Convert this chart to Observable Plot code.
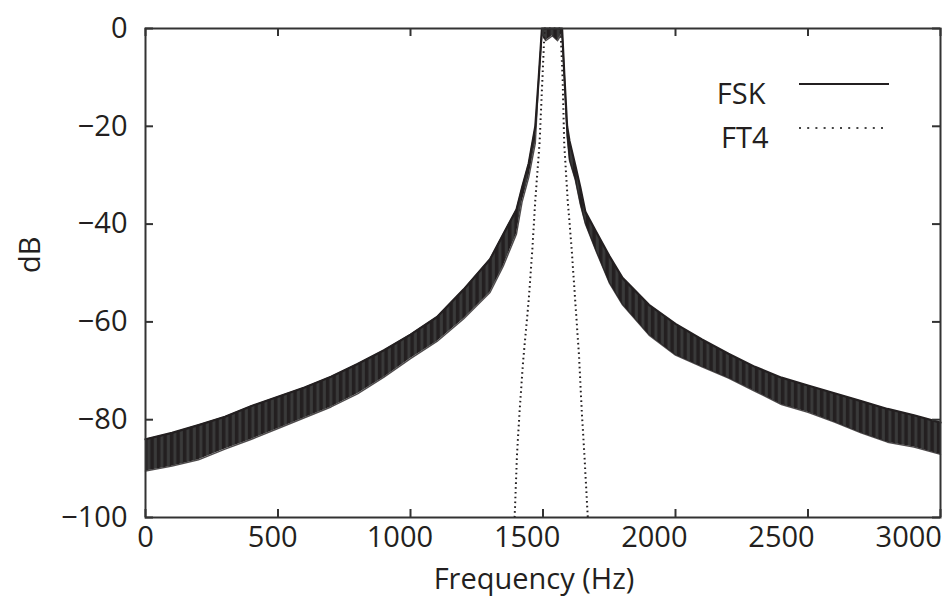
<!DOCTYPE html>
<html>
<head>
<meta charset="utf-8">
<script src="https://cdn.jsdelivr.net/npm/d3@7"></script>
<script src="https://cdn.jsdelivr.net/npm/@observablehq/plot@0.6"></script>
<style>
  html, body { margin: 0; padding: 0; background: #fff; }
  #chart { width: 944px; height: 612px; }
  svg { font-family: "Open Sans", "Noto Sans", sans-serif; }
</style>
</head>
<body>
<div id="chart"></div>
<script>
// ---- data ----
// FSK spectrum: upper and lower envelope of the dense ripple (dB)
const fskFreq  = [0, 100, 200, 300, 400, 500, 600, 700, 800, 900, 1000, 1100, 1200, 1300, 1350, 1400, 1421, 1446, 1471, 1484, 1496, 1510, 1535, 1555, 1572, 1581, 1591, 1600, 1622, 1641, 1660, 1700, 1750, 1800, 1900, 2000, 2100, 2200, 2300, 2400, 2500, 2600, 2700, 2800, 2900, 3000];
const fskUpper = [-84, -82.7, -81.1, -79.4, -77.2, -75.3, -73.4, -71.2, -68.6, -65.8, -62.6, -59, -53.4, -47.2, -42.1, -37, -32.5, -27.6, -20, -10, 0, 0, 0, 0, 0, -10, -20, -23, -28, -32.5, -37.5, -41.5, -46.5, -51, -56.5, -60.4, -63.6, -66.5, -69.2, -71.4, -73, -74.6, -76.2, -77.8, -79.1, -80.6];
const fskLower = [-90.5, -89.5, -88.2, -86, -84, -81.8, -79.6, -77.4, -74.7, -71.3, -67.5, -64, -59.4, -54, -48.6, -42, -35.5, -30.5, -23.5, -10, -1, -2.5, -1.5, -2.5, -1, -10, -22, -27, -31, -36, -40, -45.5, -52, -56.5, -62.7, -66.8, -69.2, -71.5, -74.2, -76.9, -78.5, -80.5, -82.7, -84.6, -85.6, -87.1];
// FT4 spectrum (dB)
const ft4Freq  = [1393, 1402, 1412, 1425, 1446, 1460, 1471, 1487, 1498, 1506, 1566, 1574, 1580, 1593, 1608, 1622, 1636, 1646, 1656, 1669];
const ft4Level = [-100, -87, -78, -68, -55.6, -45, -35, -23.5, -10, 0, 0, -10, -23.5, -35, -45, -56, -67, -78, -87, -100];
// axes
const xTicks = [0, 500, 1000, 1500, 2000, 2500, 3000];
const yTicks = [0, -20, -40, -60, -80, -100];
const seriesNames = ["FSK", "FT4"];
const xLabel = "Frequency (Hz)";
const yLabel = "dB";

// ---- build tables ----
const fsk = fskFreq.map((f, i) => ({f, hi: fskUpper[i], lo: fskLower[i]}));
const ft4 = ft4Freq.map((f, i) => ({f, y: ft4Level[i]}));
const ink = "#231f20";
const fmt = v => (v < 0 ? "\u2212" + Math.abs(v) : String(v));

const W = 944, H = 612;
const mT = 28, mB = 95, mL = 145, mR = 4;
const frameW = W - mL - mR, frameH = H - mT - mB;
const tk = 8;
const fs = 29;

const plot = Plot.plot({
  width: W,
  height: H,
  marginTop: mT,
  marginBottom: mB,
  marginLeft: mL,
  marginRight: mR,
  x: {domain: [0, 3000], axis: null},
  y: {domain: [-100, 0], axis: null},
  style: {fontFamily: "'Open Sans', 'Noto Sans', sans-serif", color: ink, background: "#fff"},
  marks: [
    // FSK ripple band
    Plot.areaY(fsk, {x: "f", y1: "lo", y2: "hi", fill: "url(#ripple)"}),
    Plot.line(fsk, {x: "f", y: "hi", stroke: ink, strokeWidth: 2.2}),
    Plot.line(fsk, {x: "f", y: "lo", stroke: ink, strokeWidth: 1.4, strokeOpacity: 0.8}),
    // FT4 dotted
    Plot.line(ft4, {x: "f", y: "y", stroke: ink, strokeWidth: 2, strokeDasharray: "1.6,3.2", strokeLinecap: "butt"}),
    // frame
    Plot.frame({stroke: "#333", strokeWidth: 2}),
    // inward tick marks, mirrored on all sides
    Plot.tickX(xTicks, {x: d => d, insetTop: frameH - tk, stroke: "#333", strokeWidth: 2}),
    Plot.tickX(xTicks, {x: d => d, insetBottom: frameH - tk, stroke: "#333", strokeWidth: 2}),
    Plot.tickY(yTicks, {y: d => d, insetRight: frameW - tk, stroke: "#333", strokeWidth: 2}),
    Plot.tickY(yTicks, {y: d => d, insetLeft: frameW - tk, stroke: "#333", strokeWidth: 2}),
    // tick labels
    Plot.text(xTicks, {x: d => d * 0.96, frameAnchor: "bottom", dy: 29, text: d => fmt(d), fontSize: fs, fill: ink}),
    Plot.text(yTicks, {y: d => d, frameAnchor: "left", dx: -18, textAnchor: "end", text: d => fmt(d), fontSize: fs, fill: ink}),
    // axis titles
    Plot.text([xLabel], {frameAnchor: "bottom", dx: -9, dy: 71, text: d => d, fontSize: fs, fill: ink}),
    Plot.text([yLabel], {frameAnchor: "left", dx: -115, dy: 0, rotate: -90, text: d => d, fontSize: fs, fill: ink}),
    // legend labels
    Plot.text([seriesNames[0]], {frameAnchor: "top-right", dx: -175, dy: 55, textAnchor: "end", text: d => d, fontSize: fs, fill: ink}),
    Plot.text([seriesNames[1]], {frameAnchor: "top-right", dx: -172, dy: 99, textAnchor: "end", text: d => d, fontSize: fs, fill: ink})
  ]
});

const svg = d3.select(plot);
// ripple texture for the FSK band (vertical striations)
const defs = svg.insert("defs", ":first-child");
const pat = defs.append("pattern").attr("id", "ripple").attr("patternUnits", "userSpaceOnUse")
  .attr("width", 6.5).attr("height", 40);
pat.append("rect").attr("width", 6.5).attr("height", 40).attr("fill", "#3a3a3a");
pat.append("rect").attr("x", 0.8).attr("width", 3.6).attr("height", 40).attr("fill", ink);

// legend line samples
const lg = svg.append("g");
lg.append("line").attr("x1", 799).attr("x2", 889).attr("y1", 84).attr("y2", 84)
  .attr("stroke", ink).attr("stroke-width", 2);
lg.append("line").attr("x1", 799).attr("x2", 889).attr("y1", 128).attr("y2", 128)
  .attr("stroke", "#444").attr("stroke-width", 2).attr("stroke-dasharray", "2,6.2");

document.getElementById("chart").appendChild(plot);
</script>
</body>
</html>
